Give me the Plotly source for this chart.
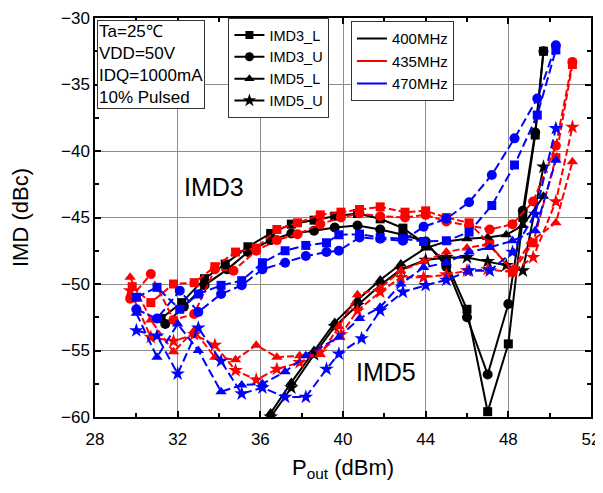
import plotly.graph_objects as go

# ---------------- data ----------------
# 400 MHz
b3l_x = [31.2, 32.2, 33.3, 34.3, 35.4, 36.5, 37.5, 38.6, 39.6, 40.7, 41.8, 42.9, 44.0, 45.0, 46.0, 47.0, 48.0, 48.7, 49.3, 49.7]
b3l_y = [-52.6, -51.4, -49.6, -48.5, -47.2, -46.2, -45.5, -45.2, -44.9, -44.7, -45.1, -45.8, -47.0, -48.4, -51.9, -59.6, -54.5, -45.0, -38.8, -32.5]
b3u_x = [31.4, 32.3, 33.3, 34.4, 35.4, 36.5, 37.5, 38.6, 39.6, 40.7, 41.8, 42.9, 44.0, 45.0, 46.0, 47.0, 48.0, 48.7, 49.3, 49.7]
b3u_y = [-53.0, -51.7, -50.1, -48.9, -47.6, -46.7, -46.2, -46.0, -45.75, -45.6, -45.9, -46.3, -46.8, -48.7, -52.5, -56.8, -51.5, -44.5, -38.6, -32.5]
b5l_x = [35.9, 36.5, 37.5, 38.6, 39.6, 40.7, 41.8, 42.8, 44.0, 45.0, 46.0, 47.0, 47.9, 48.7, 49.7]
b5l_y = [-61.5, -59.7, -57.4, -55.0, -52.9, -51.2, -49.7, -48.5, -47.3, -46.8, -46.6, -46.5, -46.3, -45.6, -43.4]
b5u_x = [36.0, 36.5, 37.5, 38.6, 39.6, 40.7, 41.8, 42.8, 44.0, 45.0, 46.0, 47.0, 47.9, 48.7, 49.7]
b5u_y = [-61.8, -60.0, -57.8, -55.3, -53.2, -51.6, -50.1, -48.9, -48.2, -48.0, -48.0, -48.3, -48.6, -49.0, -41.2]

# 435 MHz
r3l_x = [29.8, 30.7, 31.8, 32.8, 33.8, 34.8, 35.8, 36.8, 37.8, 38.9, 39.9, 40.8, 41.8, 43.0, 44.0, 45.0, 46.1, 47.1, 48.2, 49.2, 50.3, 51.1]
r3l_y = [-50.2, -51.4, -50.0, -49.9, -48.7, -47.6, -47.3, -45.9, -45.4, -44.8, -44.6, -44.4, -44.2, -44.6, -44.5, -45.0, -45.4, -47.0, -49.1, -46.9, -40.5, -33.5]
r3u_x = [29.7, 30.7, 31.8, 32.8, 33.8, 34.7, 35.8, 36.8, 37.8, 38.9, 39.9, 40.8, 41.8, 43.0, 44.0, 45.0, 46.1, 47.1, 48.2, 49.2, 50.3, 51.1]
r3u_y = [-51.1, -49.25, -52.7, -52.25, -48.9, -49.0, -47.5, -46.7, -46.25, -45.5, -45.0, -44.7, -44.9, -45.0, -44.8, -45.3, -45.6, -45.9, -45.5, -43.8, -39.6, -33.3]
r5l_x = [29.7, 30.7, 31.8, 32.8, 33.8, 34.8, 35.8, 36.8, 37.9, 38.9, 39.8, 40.7, 41.8, 42.8, 43.9, 45.0, 46.0, 47.0, 48.2, 49.1, 50.3, 51.1]
r5l_y = [-49.5, -52.7, -55.1, -53.5, -55.5, -55.7, -54.6, -55.5, -55.4, -55.3, -53.2, -50.8, -50.3, -49.0, -48.3, -47.6, -47.3, -47.0, -48.9, -46.8, -45.4, -40.8]
r5u_x = [29.7, 30.7, 31.8, 32.8, 33.8, 34.8, 35.8, 36.8, 37.9, 38.9, 39.9, 40.7, 41.8, 42.8, 43.9, 45.0, 46.0, 47.0, 48.2, 49.2, 50.3, 51.1]
r5u_y = [-50.5, -54.0, -54.3, -53.8, -54.6, -56.5, -57.2, -56.4, -55.9, -55.1, -53.8, -52.0, -50.6, -49.5, -49.5, -49.3, -49.0, -48.9, -49.1, -48.0, -43.8, -38.2]

# 470 MHz
u3l_x = [30.0, 31.0, 32.1, 33.0, 34.1, 35.1, 36.1, 37.2, 38.2, 39.2, 39.8, 40.8, 41.8, 42.9, 43.9, 45.0, 46.1, 47.2, 48.3, 49.4, 50.3]
u3l_y = [-51.0, -50.25, -51.9, -50.75, -50.1, -49.75, -48.4, -47.5, -47.1, -46.9, -46.3, -46.25, -46.5, -46.6, -46.8, -46.75, -46.1, -44.1, -41.05, -37.3, -32.4]
u3u_x = [30.0, 31.0, 32.1, 33.0, 34.1, 35.1, 36.1, 37.2, 38.2, 39.2, 39.8, 40.8, 41.8, 42.9, 43.9, 45.0, 46.1, 47.2, 48.3, 49.4, 50.3]
u3u_y = [-51.9, -52.6, -50.5, -52.1, -50.75, -50.1, -48.9, -48.4, -47.9, -47.6, -47.5, -46.5, -46.6, -46.75, -45.7, -45.1, -43.85, -41.8, -39.05, -36.05, -32.05]
u5l_x = [30.0, 31.0, 32.0, 33.0, 34.1, 35.1, 36.1, 37.2, 38.2, 39.8, 40.8, 41.8, 42.8, 43.9, 45.0, 46.1, 47.1, 48.2, 49.3, 50.3]
u5l_y = [-52.2, -55.5, -53.0, -55.0, -58.1, -57.6, -57.5, -56.6, -55.4, -54.0, -52.6, -51.75, -50.0, -48.75, -48.4, -47.6, -47.25, -46.75, -46.0, -40.7]
u5u_x = [30.0, 31.0, 32.0, 33.0, 34.1, 35.1, 36.1, 37.2, 38.2, 39.2, 39.8, 40.9, 41.8, 42.9, 44.0, 45.0, 46.1, 47.1, 48.2, 49.3, 50.3]
u5u_y = [-53.5, -53.9, -56.75, -53.3, -55.8, -58.25, -57.8, -58.5, -58.5, -56.4, -55.25, -54.1, -52.0, -50.6, -50.1, -49.7, -49.0, -49.0, -47.6, -44.75, -38.3]

series_names = ["IMD3_L", "IMD3_U", "IMD5_L", "IMD5_U"]
freq_names = ["400MHz", "435MHz", "470MHz"]
x_ticks = [28, 32, 36, 40, 44, 48, 52]
y_ticks = [-60, -55, -50, -45, -40, -35, -30]

# ---------------- styling ----------------
FONT = "Arial, 'Liberation Sans', sans-serif"
colors = {"400MHz": "black", "435MHz": "#ff0000", "470MHz": "#0000ff"}
dashes = {"400MHz": "solid", "435MHz": "7px,3px", "470MHz": "9px,4px"}
symbols = {"IMD3_L": "square", "IMD3_U": "circle", "IMD5_L": "triangle-up", "IMD5_U": "star"}
msize = {"IMD3_L": 9, "IMD3_U": 10, "IMD5_L": 10, "IMD5_U": 11}

data = {
    "400MHz": [(b3l_x, b3l_y), (b3u_x, b3u_y), (b5l_x, b5l_y), (b5u_x, b5u_y)],
    "435MHz": [(r3l_x, r3l_y), (r3u_x, r3u_y), (r5l_x, r5l_y), (r5u_x, r5u_y)],
    "470MHz": [(u3l_x, u3l_y), (u3u_x, u3u_y), (u5l_x, u5l_y), (u5u_x, u5u_y)],
}

fig = go.Figure()
for f in freq_names:
    for s, (xs, ys) in zip(series_names, data[f]):
        fig.add_trace(go.Scatter(
            x=xs, y=ys, mode="lines+markers", showlegend=False,
            line=dict(color=colors[f], width=2, dash=dashes[f]),
            marker=dict(symbol=symbols[s], size=msize[s], color=colors[f]),
        ))

# legend 1: marker shapes
for s in series_names:
    fig.add_trace(go.Scatter(
        x=[None], y=[None], mode="lines+markers", name=s, legend="legend",
        line=dict(color="black", width=2),
        marker=dict(symbol=symbols[s], size=msize[s] - 1, color="black"),
    ))
# legend 2: frequencies
for f in freq_names:
    fig.add_trace(go.Scatter(
        x=[None], y=[None], mode="lines", name=f, legend="legend2",
        line=dict(color=colors[f], width=2),
    ))

axis_common = dict(
    showline=True, linecolor="black", linewidth=1.5, mirror="allticks",
    ticks="inside", ticklen=6, tickwidth=1.5, tickcolor="black",
    showgrid=True, gridcolor="#8c8c8c", gridwidth=1, zeroline=False,
    tickfont=dict(family=FONT, size=17, color="black"), automargin=False,
    ticklabeloverflow="allow",
)

fig.update_xaxes(
    range=[28, 52], tickvals=x_ticks, ticklabelstandoff=6,
    minor=dict(dtick=2, tick0=28, ticks="inside", ticklen=4, tickcolor="black", showgrid=False),
    title=dict(text="P<sub>out</sub> (dBm)", font=dict(family=FONT, size=22, color="black"), standoff=11),
    **axis_common,
)
fig.update_yaxes(
    range=[-60, -30], tickvals=y_ticks,
    minor=dict(dtick=2.5, tick0=-60, ticks="inside", ticklen=4, tickcolor="black", showgrid=False),
    title=dict(text="IMD (dBc)", font=dict(family=FONT, size=22, color="black"), standoff=38),
    **axis_common,
)

fig.add_annotation(text="IMD3", x=33.76, y=-42.7, xref="x", yref="y", showarrow=False,
                   font=dict(family=FONT, size=25, color="black"))
fig.add_annotation(text="IMD5", x=42.1, y=-56.6, xref="x", yref="y", showarrow=False,
                   font=dict(family=FONT, size=25, color="black"))
fig.add_annotation(text="Ta=25℃<br>VDD=50V<br>IDQ=1000mA<br>10% Pulsed",
                   x=0.004, y=0.995, xref="paper", yref="paper", xanchor="left", yanchor="top",
                   align="left", showarrow=False, bgcolor="white", bordercolor="#333", borderwidth=1,
                   borderpad=1, font=dict(family=FONT, size=17, color="black"))

# page has an 8px body margin; size the figure so the plot lands where the reference has it
fig.update_layout(
    width=595, height=477,
    margin=dict(l=87, r=12, t=10, b=68),
    paper_bgcolor="white", plot_bgcolor="white",
    font=dict(family=FONT, color="black"),
    legend=dict(x=0.269, y=1.0, xanchor="left", yanchor="top", bgcolor="white",
                bordercolor="#333", borderwidth=1, font=dict(family=FONT, size=14.5),
                tracegroupgap=0, itemwidth=30),
    legend2=dict(x=0.516, y=0.992, xanchor="left", yanchor="top", bgcolor="white",
                 bordercolor="#333", borderwidth=1, font=dict(family=FONT, size=15),
                 itemwidth=30),
)

fig.write_html("out.html")
